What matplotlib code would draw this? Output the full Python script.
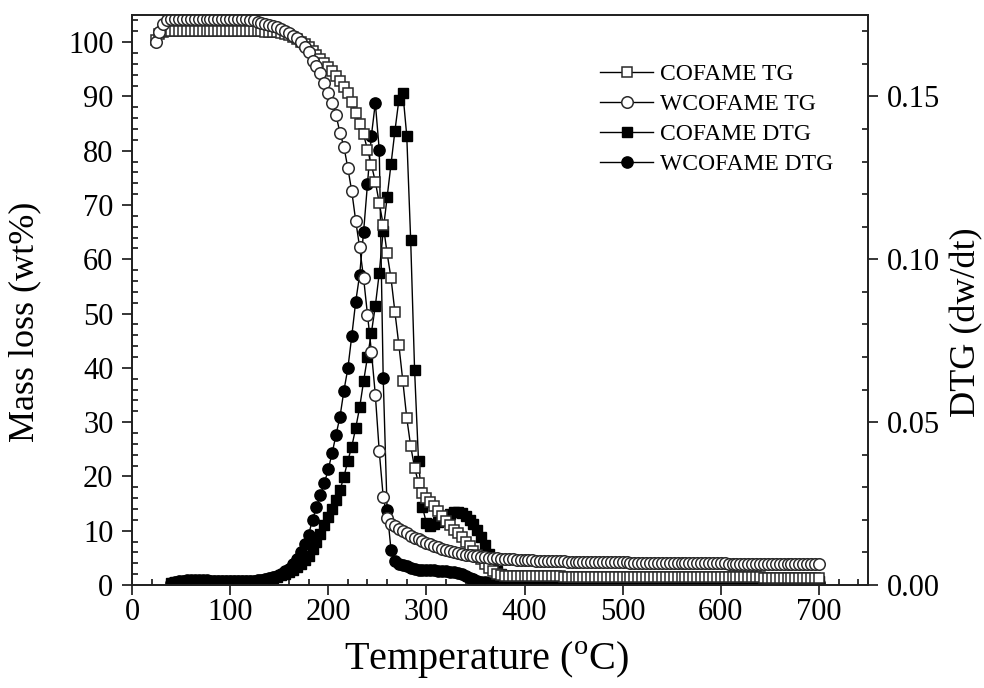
import matplotlib
matplotlib.use('Agg')
import matplotlib.pyplot as plt
from matplotlib.ticker import MultipleLocator, FormatStrFormatter

plt.rcParams['font.family'] = ['Liberation Serif', 'DejaVu Serif']
plt.rcParams['mathtext.fontset'] = 'custom'
plt.rcParams['mathtext.rm'] = 'Liberation Serif'

# temperature (C), TG curves start at 24, DTG curves at 40
temp = [
    24, 28, 32, 36, 40, 44, 48, 52, 56, 60,
    64, 68, 72, 76, 80, 84, 88, 92, 96, 100,
    104, 108, 112, 116, 120, 124, 128, 132, 136, 140,
    144, 148, 152, 156, 160, 164, 168, 172, 176, 180,
    184, 188, 192, 196, 200, 204, 208, 212, 216, 220,
    224, 228, 232, 236, 240, 244, 248, 252, 256, 260,
    264, 268, 272, 276, 280, 284, 288, 292, 296, 300,
    304, 308, 312, 316, 320, 324, 328, 332, 336, 340,
    344, 348, 352, 356, 360, 364, 368, 372, 376, 380,
    384, 388, 392, 396, 400, 404, 408, 412, 416, 420,
    424, 428, 432, 436, 440, 444, 448, 452, 456, 460,
    464, 468, 472, 476, 480, 484, 488, 492, 496, 500,
    504, 508, 512, 516, 520, 524, 528, 532, 536, 540,
    544, 548, 552, 556, 560, 564, 568, 572, 576, 580,
    584, 588, 592, 596, 600, 604, 608, 612, 616, 620,
    624, 628, 632, 636, 640, 644, 648, 652, 656, 660,
    664, 668, 672, 676, 680, 684, 688, 692, 696, 700,
]
dtg_temp = temp[4:]

# mass loss (wt%)
cofame_tg = [
    100.4, 101.5, 101.9, 102.0, 102.0, 102.0, 102.0, 102.0, 102.0, 102.0,
    102.0, 102.0, 102.0, 102.0, 102.0, 102.0, 102.0, 102.0, 102.0, 102.0,
    102.0, 102.0, 102.0, 102.0, 102.0, 102.0, 102.0, 102.0, 101.9, 101.9,
    101.9, 101.8, 101.7, 101.5, 101.3, 101.0, 100.6, 100.1, 99.6, 99.1,
    98.4, 97.7, 96.9, 96.2, 95.5, 94.7, 93.8, 92.9, 91.8, 90.6,
    89.0, 86.9, 85.0, 83.0, 80.2, 77.4, 74.3, 70.4, 66.4, 61.1,
    56.5, 50.2, 44.2, 37.6, 30.8, 25.6, 21.6, 18.8, 16.9, 16.0,
    15.3, 14.5, 13.7, 12.7, 11.8, 11.0, 10.2, 9.5, 8.8, 7.9,
    7.1, 6.3, 5.5, 4.7, 3.8, 3.1, 2.5, 2.1, 1.8, 1.7,
    1.6, 1.6, 1.6, 1.6, 1.6, 1.6, 1.6, 1.6, 1.6, 1.6,
    1.6, 1.6, 1.6, 1.6, 1.5, 1.5, 1.5, 1.5, 1.5, 1.5,
    1.5, 1.5, 1.5, 1.5, 1.5, 1.5, 1.5, 1.5, 1.5, 1.5,
    1.5, 1.5, 1.5, 1.5, 1.5, 1.4, 1.4, 1.4, 1.4, 1.4,
    1.4, 1.4, 1.4, 1.4, 1.4, 1.4, 1.4, 1.4, 1.4, 1.4,
    1.4, 1.4, 1.4, 1.4, 1.4, 1.4, 1.4, 1.4, 1.4, 1.4,
    1.4, 1.4, 1.4, 1.4, 1.4, 1.3, 1.3, 1.3, 1.3, 1.3,
    1.3, 1.3, 1.3, 1.3, 1.3, 1.3, 1.3, 1.3, 1.3, 1.3,
]
wcofame_tg = [
    100.0, 101.8, 103.3, 104.0, 104.2, 104.3, 104.3, 104.3, 104.3, 104.3,
    104.3, 104.3, 104.3, 104.3, 104.3, 104.3, 104.3, 104.3, 104.3, 104.3,
    104.3, 104.3, 104.2, 104.2, 104.1, 104.0, 103.8, 103.6, 103.4, 103.2,
    103.0, 102.7, 102.4, 102.0, 101.6, 101.2, 100.7, 100.1, 99.1, 98.1,
    96.6, 95.6, 94.3, 92.5, 90.7, 88.7, 86.5, 83.3, 80.7, 76.8,
    72.5, 67.1, 62.2, 56.6, 49.8, 43.0, 35.0, 24.6, 16.3, 12.4,
    11.3, 10.8, 10.3, 9.9, 9.5, 9.1, 8.7, 8.4, 8.1, 7.8,
    7.5, 7.2, 7.0, 6.7, 6.5, 6.3, 6.1, 5.9, 5.8, 5.6,
    5.5, 5.4, 5.3, 5.2, 5.1, 5.0, 4.95, 4.9, 4.85, 4.8,
    4.75, 4.7, 4.66, 4.62, 4.58, 4.55, 4.52, 4.49, 4.46, 4.44,
    4.42, 4.4, 4.38, 4.36, 4.34, 4.32, 4.3, 4.28, 4.27, 4.26,
    4.25, 4.24, 4.23, 4.22, 4.21, 4.2, 4.19, 4.18, 4.17, 4.16,
    4.15, 4.14, 4.13, 4.12, 4.11, 4.1, 4.1, 4.09, 4.08, 4.07,
    4.06, 4.05, 4.05, 4.04, 4.03, 4.02, 4.02, 4.01, 4.0, 4.0,
    3.99, 3.99, 3.98, 3.98, 3.97, 3.97, 3.96, 3.96, 3.95, 3.95,
    3.94, 3.94, 3.93, 3.93, 3.93, 3.92, 3.92, 3.92, 3.91, 3.91,
    3.91, 3.9, 3.9, 3.9, 3.9, 3.89, 3.89, 3.89, 3.89, 3.88,
]

# DTG (dw/dt)
cofame_dtg = [
    0.0005, 0.0008, 0.0010, 0.0011, 0.0012, 0.0012, 0.0012, 0.0012, 0.0012, 0.0012,
    0.0012, 0.0012, 0.0012, 0.0012, 0.0012, 0.0012, 0.0012, 0.0012, 0.0012, 0.0012,
    0.0012, 0.0013, 0.0013, 0.0014, 0.0015, 0.0017, 0.0020, 0.0025, 0.0030, 0.0035,
    0.0040, 0.0046, 0.0055, 0.0065, 0.0077, 0.0090, 0.0110, 0.0133, 0.0158, 0.0185,
    0.0210, 0.0233, 0.0260, 0.0292, 0.0332, 0.0382, 0.0425, 0.0482, 0.0545, 0.0625,
    0.0700, 0.0775, 0.0857, 0.0958, 0.1088, 0.1190, 0.1293, 0.1395, 0.1490, 0.1512,
    0.1380, 0.1060, 0.0660, 0.0380, 0.0240, 0.0190, 0.0182, 0.0186, 0.0193, 0.0202,
    0.0211, 0.0218, 0.0223, 0.0225, 0.0222, 0.0213, 0.0200, 0.0186, 0.0170, 0.0148,
    0.0124, 0.0094, 0.0066, 0.0044, 0.0033, 0.0027, 0.0024, 0.0022, 0.0021, 0.0020,
    0.0019, 0.0019, 0.0018, 0.0018, 0.0018, 0.0017, 0.0017, 0.0017, 0.0017, 0.0016,
    0.0016, 0.0016, 0.0016, 0.0016, 0.0016, 0.0016, 0.0016, 0.0016, 0.0016, 0.0016,
    0.0015, 0.0015, 0.0015, 0.0015, 0.0015, 0.0015, 0.0015, 0.0015, 0.0015, 0.0015,
    0.0015, 0.0015, 0.0015, 0.0015, 0.0015, 0.0014, 0.0014, 0.0014, 0.0014, 0.0014,
    0.0014, 0.0014, 0.0014, 0.0014, 0.0014, 0.0014, 0.0014, 0.0014, 0.0014, 0.0014,
    0.0013, 0.0013, 0.0013, 0.0013, 0.0013, 0.0013, 0.0013, 0.0013, 0.0013, 0.0013,
    0.0013, 0.0013, 0.0013, 0.0013, 0.0013, 0.0012, 0.0012, 0.0012, 0.0012, 0.0012,
    0.0012, 0.0012, 0.0012, 0.0012, 0.0012, 0.0012,
]
wcofame_dtg = [
    0.0006, 0.0009, 0.0011, 0.0013, 0.0014, 0.0015, 0.0015, 0.0015, 0.0014, 0.0014,
    0.0013, 0.0013, 0.0012, 0.0012, 0.0012, 0.0012, 0.0012, 0.0012, 0.0012, 0.0012,
    0.0013, 0.0013, 0.0014, 0.0016, 0.0018, 0.0021, 0.0025, 0.0029, 0.0035, 0.0043,
    0.0050, 0.0064, 0.0080, 0.0100, 0.0125, 0.0155, 0.0200, 0.0240, 0.0276, 0.0312,
    0.0355, 0.0405, 0.0462, 0.0517, 0.0597, 0.0665, 0.0765, 0.0870, 0.0952, 0.1083,
    0.1230, 0.1380, 0.1480, 0.1335, 0.0637, 0.0230, 0.0107, 0.0075, 0.0064, 0.0060,
    0.0057, 0.0053, 0.0049, 0.0047, 0.0046, 0.0046, 0.0046, 0.0045, 0.0044, 0.0043,
    0.0042, 0.0041, 0.0040, 0.0037, 0.0033, 0.0028, 0.0023, 0.0018, 0.0013, 0.0010,
    0.0008, 0.0007, 0.0006, 0.0006, 0.0006, 0.0006, 0.0005, 0.0005, 0.0005, 0.0005,
    0.0005, 0.0005, 0.0005, 0.0005, 0.0005, 0.0005, 0.0005, 0.0005, 0.0005, 0.0005,
    0.0005, 0.0005, 0.0005, 0.0005, 0.0005, 0.0005, 0.0005, 0.0005, 0.0005, 0.0005,
    0.0005, 0.0005, 0.0005, 0.0005, 0.0005, 0.0005, 0.0005, 0.0005, 0.0005, 0.0005,
    0.0005, 0.0005, 0.0005, 0.0005, 0.0005, 0.0005, 0.0005, 0.0005, 0.0005, 0.0005,
    0.0005, 0.0005, 0.0005, 0.0005, 0.0005, 0.0005, 0.0005, 0.0005, 0.0005, 0.0005,
    0.0005, 0.0005, 0.0005, 0.0005, 0.0005, 0.0005, 0.0005, 0.0005, 0.0005, 0.0005,
    0.0005, 0.0005, 0.0005, 0.0005, 0.0005, 0.0005, 0.0005, 0.0005, 0.0005, 0.0005,
    0.0005, 0.0005, 0.0005, 0.0005, 0.0005, 0.0005,
]

fig = plt.figure(figsize=(9.84, 6.88), dpi=100)
ax = fig.add_axes([0.1341, 0.1497, 0.748, 0.8285])
ax2 = ax.twinx()
# mass-loss layer sits above the DTG layer
ax.set_zorder(ax2.get_zorder() + 1)
ax.patch.set_visible(False)

line_kw = dict(color='black', lw=1.0)
h1, = ax.plot(temp, cofame_tg, marker='s', ms=7.9, mfc='white', mec='#2a2a2a',
              mew=1.1, label='COFAME TG', **line_kw)
h2, = ax.plot(temp, wcofame_tg, marker='o', ms=8.3, mfc='white', mec='#2a2a2a',
              mew=1.1, label='WCOFAME TG', **line_kw)
h3, = ax2.plot(dtg_temp, cofame_dtg, marker='s', ms=7.3, mfc='black', mec='black',
               label='COFAME DTG', **line_kw)
h4, = ax2.plot(dtg_temp, wcofame_dtg, marker='o', ms=8.1, mfc='black', mec='black',
               label='WCOFAME DTG', **line_kw)

ax.set_xlim(0, 750)
ax.set_ylim(0, 105)
ax2.set_ylim(0, 0.175)

ax.xaxis.set_major_locator(MultipleLocator(100))
ax.xaxis.set_minor_locator(MultipleLocator(20))
ax.yaxis.set_major_locator(MultipleLocator(10))
ax.yaxis.set_minor_locator(MultipleLocator(2))
ax2.yaxis.set_major_locator(MultipleLocator(0.05))
ax2.yaxis.set_minor_locator(MultipleLocator(0.01))
ax2.yaxis.set_major_formatter(FormatStrFormatter('%.2f'))

ax.tick_params(axis='both', which='major', direction='out', length=7, width=1.1,
               labelsize=22, top=False, right=False)
ax.tick_params(axis='both', which='minor', direction='in', length=4.5, width=1.1,
               top=False, right=False)
ax.tick_params(axis='x', which='major', pad=2.5)
ax.tick_params(axis='y', which='major', pad=6.3)
ax2.tick_params(axis='y', which='major', direction='out', length=7, width=1.1,
                labelsize=22, pad=6.5)
ax2.tick_params(axis='y', which='minor', direction='in', length=4.5, width=1.1)

for a in (ax, ax2):
    for s in a.spines.values():
        s.set_linewidth(1.3)
        s.set_color('#222222')

ax.set_xlabel('Temperature ($^{\\mathregular{o}}$C)', fontsize=29)
ax.xaxis.set_label_coords(0.4817, -0.149)
ax.xaxis.label.set_va('baseline')

ax.set_ylabel('Mass loss (wt%)', fontsize=26)
ax.yaxis.set_label_coords(-0.145, 0.461)
ax.yaxis.label.set_va('center')

ax2.set_ylabel('DTG (dw/dt)', fontsize=26)
ax2.yaxis.set_label_coords(1.1345, 0.461)
ax2.yaxis.label.set_va('center')

ax.legend(handles=[h1, h2, h3, h4], loc='upper left', bbox_to_anchor=(0.636, 0.915),
          frameon=False, fontsize=17, handlelength=2.25, handletextpad=0.3,
          labelspacing=0.36, borderpad=0, borderaxespad=0)

fig.savefig('out.png', dpi=100, facecolor='white')
